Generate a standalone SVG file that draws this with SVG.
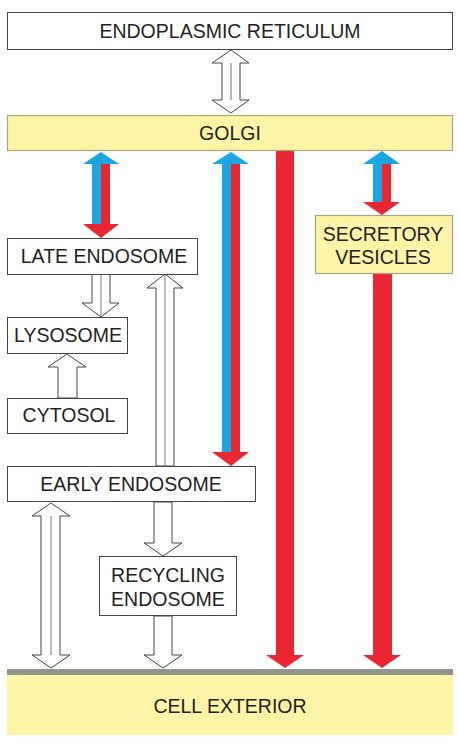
<svg xmlns="http://www.w3.org/2000/svg" width="459" height="743" viewBox="0 0 459 743">
<style>
.box{fill:#fff;stroke:#444;stroke-width:1}
.ybox{fill:#FDF4A8;stroke:#A8A47E;stroke-width:1.2}
.t{font-family:"Liberation Sans",Arial,sans-serif;font-size:19.5px;fill:#231f20;text-anchor:middle}
.hol{fill:#fff;stroke:#444;stroke-width:1;stroke-linejoin:miter}
.mid{stroke:#777;stroke-width:1}
.blue{fill:#1AA6E2}
.red{fill:#EA2631}
</style>
<rect x="0" y="0" width="459" height="743" fill="#fff"/>
<g id="connectors">
<!-- ER <-> Golgi -->
<polygon class="hol" points="231,50 249,63 240,63 240,100 249,100 231,113 212,100 222,100 222,63 212,63"/>
<line class="mid" x1="231" y1="63" x2="231" y2="100"/>
<!-- Golgi <-> Late endosome -->
<polygon class="blue" points="101,152 119,164 101,164 101,224 92,224 92,164 83,164"/>
<polygon class="red" points="101,164 110,164 110,224 119,224 101,238 83,224 101,224"/>
<!-- Golgi <-> Early endosome -->
<polygon class="blue" points="231,152 249,164 231,164 231,452 222,452 222,164 212,164"/>
<polygon class="red" points="231,164 240,164 240,452 249,452 231,466 212,452 231,452"/>
<!-- Golgi -> Cell exterior -->
<polygon class="red" points="276,150 294,150 294,655 304,655 285,668 266,655 276,655"/>
<!-- Golgi <-> Secretory vesicles -->
<polygon class="blue" points="382,151 400,164 382,164 382,202 373,202 373,164 363,164"/>
<polygon class="red" points="382,164 391,164 391,202 400,202 382,215 363,202 382,202"/>
<!-- Secretory vesicles -> Cell exterior -->
<polygon class="red" points="373,274 392,274 392,655 401,655 382,668 363,655 373,655"/>
<!-- Late endosome -> Lysosome -->
<polygon class="hol" points="92,274 110,274 110,303 119,303 101,317 82,303 92,303"/>
<line class="mid" x1="101" y1="274" x2="101" y2="316"/>
<!-- Cytosol -> Lysosome -->
<polygon class="hol" points="67,354 86,367 77,367 77,398 58,398 58,367 48,367"/>
<!-- Early endosome -> Late endosome -->
<polygon class="hol" points="165,274 183,288 174,288 174,466 156,466 156,288 147,288"/>
<line class="mid" x1="165" y1="275" x2="165" y2="466"/>
<!-- Early endosome <-> Cell exterior -->
<polygon class="hol" points="51,503 70,516 60,516 60,655 70,655 51,668 32,655 41,655 41,516 32,516"/>
<line class="mid" x1="51" y1="516" x2="51" y2="655"/>
<!-- Early endosome -> Recycling endosome -->
<polygon class="hol" points="154,502 172,502 172,543 182,543 163,556 144,543 154,543"/>
<!-- Recycling endosome -> Cell exterior -->
<polygon class="hol" points="154,616 172,616 172,655 182,655 163,668 144,655 154,655"/>
</g>
<g id="er">
<rect class="box" x="7.5" y="12.5" width="445" height="37"/>
<text class="t" x="230" y="38">ENDOPLASMIC RETICULUM</text>
</g>
<g id="golgi">
<rect class="ybox" x="7.5" y="115.5" width="445" height="35"/>
<text class="t" x="230" y="140">GOLGI</text>
</g>
<g id="late-endosome">
<rect class="box" x="7.5" y="238.5" width="190" height="36"/>
<text class="t" x="104" y="263">LATE ENDOSOME</text>
</g>
<g id="lysosome">
<rect class="box" x="7.5" y="317.5" width="120" height="36"/>
<text class="t" x="68" y="342">LYSOSOME</text>
</g>
<g id="cytosol">
<rect class="box" x="7.5" y="398.5" width="120" height="35"/>
<text class="t" x="69" y="422">CYTOSOL</text>
</g>
<g id="early-endosome">
<rect class="box" x="7.5" y="466.5" width="248" height="35"/>
<text class="t" x="131" y="491">EARLY ENDOSOME</text>
</g>
<g id="recycling-endosome">
<rect class="box" x="99.5" y="556.5" width="137" height="59"/>
<text class="t" x="168" y="582">RECYCLING</text>
<text class="t" x="168" y="606">ENDOSOME</text>
</g>
<g id="secretory-vesicles">
<rect class="ybox" x="315.5" y="215.5" width="137" height="58"/>
<text class="t" x="383" y="241">SECRETORY</text>
<text class="t" x="383" y="264">VESICLES</text>
</g>
<g id="cell-exterior">
<rect x="7" y="675" width="446" height="60" fill="#FDF4A8"/>
<rect x="7" y="669" width="446" height="6" fill="#8F958A"/>
<text class="t" x="230" y="713">CELL EXTERIOR</text>
</g>
</svg>
